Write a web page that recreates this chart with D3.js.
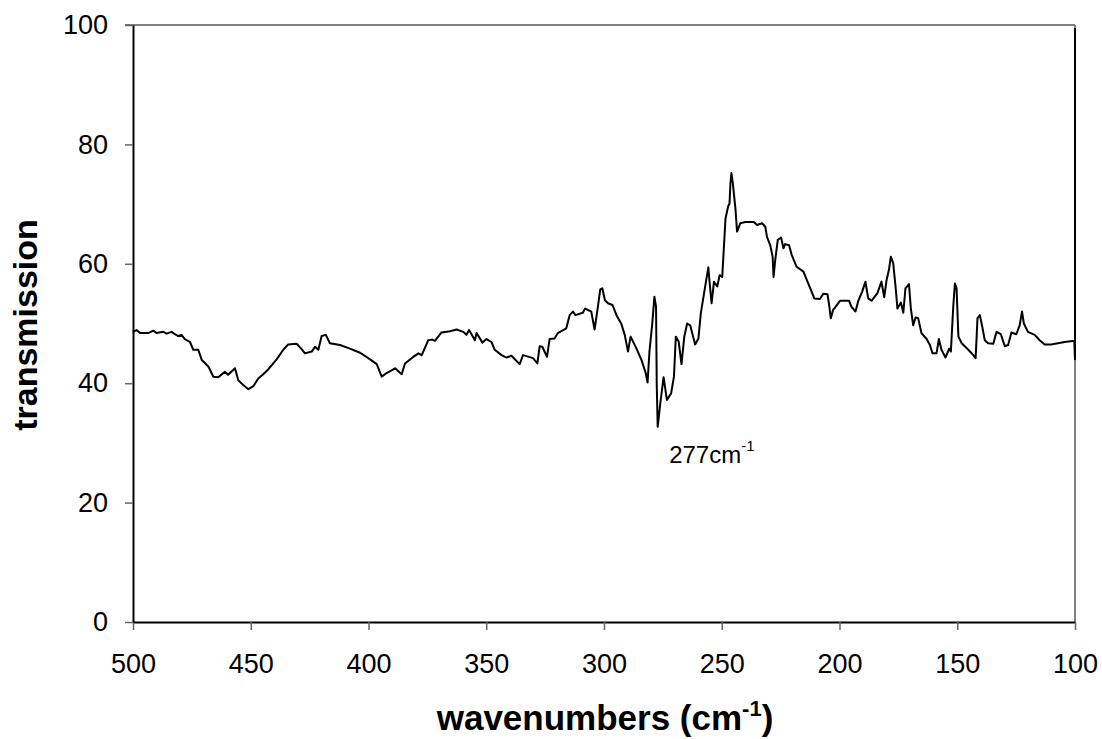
<!DOCTYPE html>
<html>
<head>
<meta charset="utf-8">
<script src="https://cdn.jsdelivr.net/npm/d3@7"></script>
<style>
  body { margin: 0; background: #fff; }
  svg text { font-family: "Liberation Sans", Arial, sans-serif; }
</style>
</head>
<body>
<div id="chart"></div>
<script>
var svgWidth = 1102;
var svgHeight = 739;

var margin = { top: 25, right: 27, bottom: 117, left: 133 };
var width = svgWidth - margin.left - margin.right;
var height = svgHeight - margin.top - margin.bottom;

// spectrum (wavenumber, transmission)
var wavenumbers = [
  500, 498.5, 497, 493.5, 491.4, 490, 487.1, 485.7, 483.6, 482.2, 480.8, 479.4, 478, 475.8, 474.4,
  472.3, 470.8, 468, 465.9, 463.8, 461, 459.6, 456.7, 455.3, 453.2, 451, 448.9, 446.8, 444.7, 442.6,
  439, 436.2, 434.1, 430.5, 428.4, 427, 424.1, 422.7, 421.3, 419.9, 418.1, 416.4, 412.1, 407.9, 403.6,
  400.1, 396.5, 394.4, 392.3, 388.7, 385.9, 384.5, 381, 378.8, 377.4, 374.6, 373, 371.8, 369, 365.4,
  362.6, 359.8, 358.4, 357.3, 354.8, 354.1, 351.6, 349.9, 347.8, 346.4, 343.5, 341.4, 339.3, 335.8, 334.4,
  330.1, 328.3, 327.3, 326.2, 324.2, 323.1, 321, 319.6, 316, 314.6, 313.2, 312.1, 309, 308, 305.4,
  304, 302.6, 301.6, 300.7, 299.6, 298.3, 296.4, 294.7, 292.6, 291.2, 289.8, 288.7, 286.2, 284.1, 282.3,
  281.5, 280.7, 279.5, 278.6, 277.9, 277.6, 277.2, 276.1, 274.7, 273.3, 271.5, 270.3, 269.5, 268.3, 267.1,
  265.9, 264.7, 263.4, 261.3, 259.9, 258.9, 257.5, 255.7, 255, 254.3, 253.3, 251.9, 250.9, 249.8, 248.4,
  247.3, 246.7, 246.3, 245.9, 245.3, 244.2, 243.5, 242.1, 240, 236.4, 235, 232.9, 231.5, 230.8, 229.4,
  228.4, 228, 227.3, 226.2, 224.8, 223.8, 223.1, 221.4, 220.3, 218.2, 215.3, 213.9, 211.8, 210.7, 208.3,
  206.9, 205.1, 204.4, 203.7, 202.7, 201.7, 199.8, 195.9, 194.9, 193.2, 192.1, 190.4, 189, 187.8, 186.4,
  183.9, 182.2, 181, 180, 179, 178.2, 177.2, 176.2, 175.4, 173.9, 172.9, 172, 170.5, 169.7, 168.7,
  167.7, 166.6, 165.2, 163, 161.6, 160.5, 158.8, 157.8, 156.7, 155, 153.4, 152.7, 151.7, 151, 150.3,
  149.5, 148.1, 145.3, 143.2, 142.2, 141.4, 140.4, 139.4, 138.3, 136.9, 134.7, 133.3, 131.5, 129.8, 128.4,
  127, 124.9, 123.5, 122.5, 121.7, 120, 117.1, 115, 112.9, 110.1, 104.4, 100.3, 100, 100
];

var transmission = [
  48.6, 48.9, 48.4, 48.4, 48.8, 48.4, 48.6, 48.3, 48.6, 48.2, 47.9, 48.1, 47.4, 46.9, 45.6,
  45.6, 43.9, 42.8, 41.1, 41.0, 41.9, 41.4, 42.5, 40.5, 39.7, 39.0, 39.5, 40.8, 41.5, 42.3,
  44.0, 45.6, 46.5, 46.6, 45.7, 45.0, 45.3, 46.1, 45.6, 47.9, 48.1, 46.7, 46.4, 45.8, 45.1,
  44.2, 43.2, 41.1, 41.7, 42.5, 41.5, 43.3, 44.4, 45.0, 44.7, 47.2, 47.3, 47.1, 48.5, 48.7,
  49.0, 48.6, 48.1, 48.9, 47.2, 48.4, 46.8, 47.4, 46.9, 45.6, 44.7, 44.3, 44.6, 43.2, 44.7,
  44.2, 43.3, 46.2, 46.1, 44.4, 47.4, 47.5, 48.4, 49.2, 51.4, 52.0, 51.4, 51.8, 52.5, 52.0,
  49.0, 52.8, 55.7, 55.9, 53.9, 53.4, 53.1, 51.4, 49.9, 48.1, 45.3, 47.8, 45.8, 43.9, 41.7,
  40.1, 45.3, 50.0, 54.5, 52.8, 39.7, 32.7, 36.6, 41.0, 37.2, 38.3, 41.1, 47.8, 47.0, 43.2,
  47.8, 50.0, 49.7, 46.5, 47.5, 51.7, 55.1, 59.4, 56.2, 53.4, 57.0, 56.2, 58.1, 57.8, 67.6,
  69.6, 70.1, 73.5, 75.2, 73.5, 69.3, 65.4, 66.8, 67.0, 67.0, 66.5, 66.8, 66.2, 64.5, 63.1,
  61.2, 57.8, 60.6, 64.0, 64.4, 62.6, 63.3, 63.1, 61.5, 59.5, 58.7, 57.3, 55.3, 54.2, 54.1,
  55.0, 54.9, 53.1, 50.9, 52.3, 52.8, 53.8, 53.8, 52.8, 52.0, 53.7, 55.3, 57.0, 54.2, 53.8,
  55.1, 57.0, 54.4, 57.3, 59.0, 61.2, 60.1, 56.2, 52.5, 53.5, 51.8, 55.9, 56.6, 52.5, 49.7,
  51.0, 50.9, 48.4, 47.4, 46.4, 45.0, 45.0, 47.4, 45.6, 44.3, 45.8, 45.3, 52.8, 56.7, 55.9,
  47.8, 46.7, 45.6, 44.7, 44.2, 50.9, 51.4, 49.5, 47.2, 46.7, 46.6, 48.6, 48.2, 46.2, 46.4,
  48.5, 48.2, 49.7, 52.0, 50.0, 48.6, 48.1, 47.2, 46.5, 46.5, 46.9, 47.1, 44.0, 99.5
];

var xTicks = [500, 450, 400, 350, 300, 250, 200, 150, 100];
var yTicks = [0, 20, 40, 60, 80, 100];

var peakWavenumber = 277;
var peakLabelValue = 26.6;

var Data = wavenumbers.map(function(w, i) {
  return { w: w, t: transmission[i] };
});

var svg = d3.select("#chart")
  .append("svg")
  .attr("width", svgWidth)
  .attr("height", svgHeight);

var chartGroup = svg.append("g")
  .attr("transform", `translate(${margin.left}, ${margin.top})`);

// reversed x axis, like an IR spectrum
var xScale = d3.scaleLinear()
  .domain([500, 100])
  .range([0, width]);

var yScale = d3.scaleLinear()
  .domain([0, 100])
  .range([height, 0]);

// frame on top and right (grey)
chartGroup.append("line")
  .attr("x1", -8).attr("x2", width)
  .attr("y1", 0).attr("y2", 0)
  .attr("stroke", "#808080").attr("stroke-width", 2);
chartGroup.append("line")
  .attr("x1", width).attr("x2", width)
  .attr("y1", 0).attr("y2", height)
  .attr("stroke", "#808080").attr("stroke-width", 2);

var xAxis = d3.axisBottom(xScale)
  .tickValues(xTicks)
  .tickFormat(d3.format("d"))
  .tickSize(8)
  .tickPadding(9)
  .tickSizeOuter(0);

var yAxis = d3.axisLeft(yScale)
  .tickValues(yTicks)
  .tickSize(8)
  .tickPadding(17)
  .tickSizeOuter(0);

var xg = chartGroup.append("g")
  .attr("transform", `translate(0, ${height})`)
  .call(xAxis);

var yg = chartGroup.append("g")
  .call(yAxis);

[xg, yg].forEach(function(g) {
  g.select(".domain").attr("stroke", "#000").attr("stroke-width", 2);
  g.selectAll(".tick line").attr("stroke", "#666").attr("stroke-width", 1.5);
  g.selectAll(".tick text")
    .attr("fill", "#000")
    .style("font-size", "27px")
    .style("font-family", "'Liberation Sans', Arial, sans-serif");
});
xg.selectAll(".tick text").attr("dy", "1.27em");

// the spectrum
var line = d3.line()
  .x(d => xScale(d.w))
  .y(d => yScale(d.t));

chartGroup.append("path")
  .datum(Data)
  .attr("d", line)
  .attr("fill", "none")
  .attr("stroke", "#000")
  .attr("stroke-width", 2)
  .attr("stroke-linejoin", "round");

// peak annotation
var note = chartGroup.append("text")
  .attr("x", xScale(peakWavenumber) + 11)
  .attr("y", yScale(peakLabelValue))
  .style("font-size", "24px")
  .attr("fill", "#000");
note.append("tspan").text("277cm");
note.append("tspan").attr("dy", -12).style("font-size", "15px").text("-1");

// axis labels
chartGroup.append("text")
  .attr("transform", "rotate(-90)")
  .attr("x", 0 - 300)
  .attr("y", 37 - margin.left)
  .attr("text-anchor", "middle")
  .style("font-size", "34px")
  .style("font-weight", "bold")
  .text("transmission");

var xTitle = chartGroup.append("text")
  .attr("x", width / 2 + 1)
  .attr("y", height + 108)
  .attr("text-anchor", "middle")
  .style("font-size", "35px")
  .style("font-weight", "bold");
xTitle.append("tspan").text("wavenumbers (cm");
xTitle.append("tspan").attr("dy", -14).style("font-size", "22px").text("-1");
xTitle.append("tspan").attr("dy", 14).text(")");
</script>
</body>
</html>
